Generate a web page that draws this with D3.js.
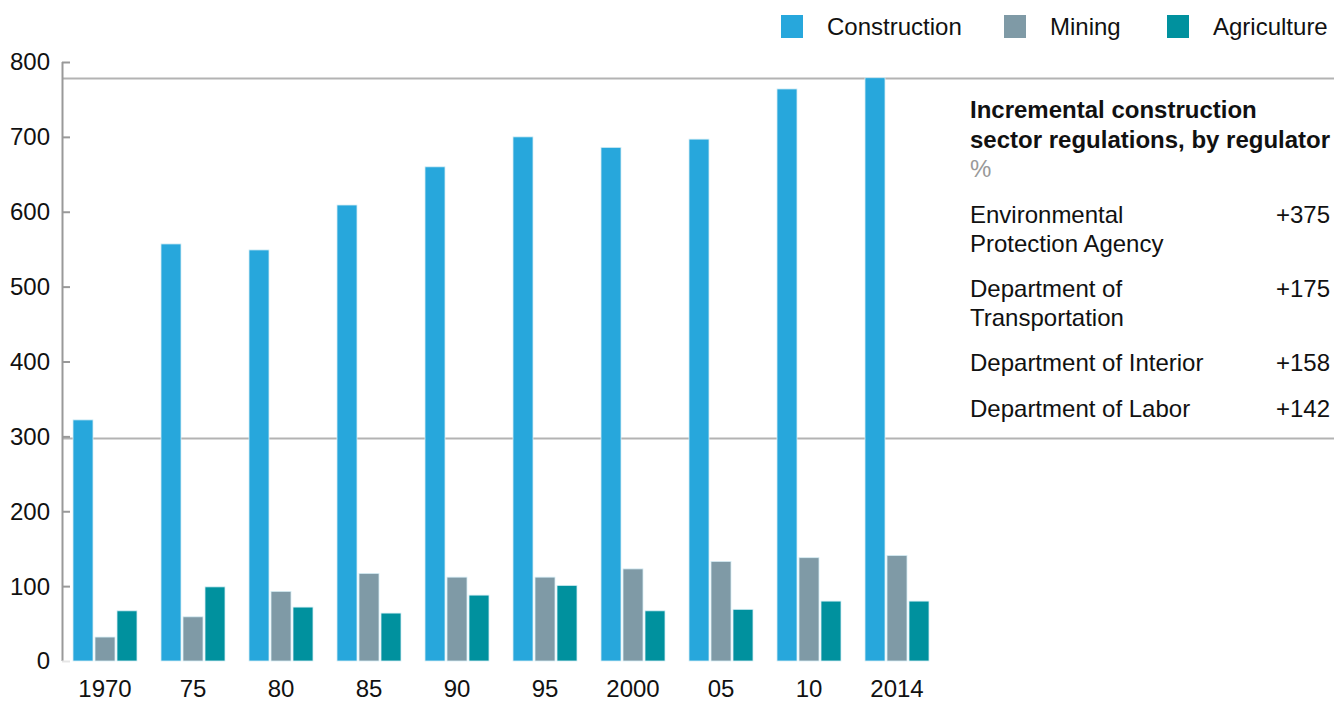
<!DOCTYPE html>
<html>
<head>
<meta charset="utf-8">
<script src="https://cdn.jsdelivr.net/npm/d3@7/dist/d3.min.js"></script>
<style>
  html, body { margin: 0; padding: 0; background: #fff; }
  svg { display: block; font-family: "Liberation Sans", Arial, sans-serif; }
</style>
</head>
<body>
<svg id="chart" width="1334" height="702"></svg>
<script>
// Regulations by sector, 1970–2014
const years = ["1970", "75", "80", "85", "90", "95", "2000", "05", "10", "2014"];
const sectors = ["Construction", "Mining", "Agriculture"];
const construction = [322, 557, 549, 609, 660, 700, 686, 697, 764, 779];
const mining = [32, 59, 93, 117, 112, 112, 123, 133, 138, 141];
const agriculture = [67, 99, 72, 64, 88, 101, 67, 69, 80, 80];
const yTicks = [0, 100, 200, 300, 400, 500, 600, 700, 800];

// Side panel: incremental construction regulations by regulator
const regulators = [
  ["Environmental", "Protection Agency"],
  ["Department of", "Transportation"],
  ["Department of Interior"],
  ["Department of Labor"]
];
const regulatorChange = ["+375", "+175", "+158", "+142"];
// Bracket lines spanning the 1970 → 2014 construction range
const bracketValues = [298, 779];

(function () {
  const colors = { Construction: "#27a7dc", Mining: "#7f9aa6", Agriculture: "#00919e" };
  const seriesBySector = { Construction: construction, Mining: mining, Agriculture: agriculture };
  const fs = 24;

  const svg = d3.select("#chart");
  const plotLeft = 62, plotTop = 62, plotBottom = 661;

  const y = d3.scaleLinear().domain([0, 800]).range([plotBottom, plotTop]);
  const x = d3.scaleBand().domain(years).range([62, 940])
    .paddingInner(24 / 88).paddingOuter(11 / 88);
  const xs = d3.scaleBand().domain(sectors).range([0, x.bandwidth()]).paddingInner(2 / 22);

  // Bracket lines
  svg.append("g").selectAll("line").data(bracketValues).join("line")
    .attr("x1", plotLeft + 1).attr("x2", 1334)
    .attr("y1", d => Math.round(y(d)) + 0.5).attr("y2", d => Math.round(y(d)) + 0.5)
    .attr("stroke", "#b3b3b3").attr("stroke-width", 2);

  // Bars
  const groups = svg.append("g").selectAll("g").data(years).join("g")
    .attr("transform", d => `translate(${x(d)},0)`);
  groups.selectAll("rect")
    .data((d, i) => sectors.map(s => ({ s, v: seriesBySector[s][i] })))
    .join("rect")
    .attr("x", d => xs(d.s))
    .attr("width", xs.bandwidth())
    .attr("y", d => y(d.v))
    .attr("height", d => y(0) - y(d.v))
    .attr("fill", d => colors[d.s])
    .attr("stroke", "#d6eef5").attr("stroke-width", 0.8);

  // Y axis
  const yAxis = svg.append("g").attr("transform", `translate(${plotLeft},0)`)
    .call(d3.axisRight(y).tickValues(yTicks).tickSize(8).tickFormat(""));
  yAxis.select(".domain").attr("stroke", "#999").attr("stroke-width", 2)
    .attr("d", `M0.5,${plotTop}V${plotBottom}`);
  yAxis.selectAll(".tick line").attr("stroke", "#999").attr("stroke-width", 2);
  yAxis.selectAll(".tick").filter(d => d === 0).select("line").attr("stroke", "#e6e6e6");
  svg.append("g").selectAll("text").data(yTicks).join("text")
    .attr("x", 50).attr("y", d => y(d)).attr("dy", "0.35em")
    .attr("text-anchor", "end").attr("font-size", fs).attr("fill", "#111")
    .text(d => d);

  // X labels
  svg.append("g").selectAll("text").data(years).join("text")
    .attr("x", d => x(d) + x.bandwidth() / 2).attr("y", 697)
    .attr("text-anchor", "middle").attr("font-size", fs).attr("fill", "#111")
    .text(d => d);

  // Legend
  const legendX = [781, 1004, 1167];
  const legend = svg.append("g").selectAll("g").data(sectors).join("g")
    .attr("transform", (d, i) => `translate(${legendX[i]},15)`);
  legend.append("rect").attr("width", 22).attr("height", 23).attr("fill", d => colors[d]);
  legend.append("text").attr("x", 46).attr("y", 12).attr("dy", "0.35em")
    .attr("font-size", fs).attr("fill", "#111").text(d => d);

  // Side panel text
  const panel = svg.append("g");
  panel.append("text").attr("x", 970).attr("y", 118).attr("font-size", fs).attr("font-weight", "bold")
    .attr("fill", "#111").text("Incremental construction");
  panel.append("text").attr("x", 970).attr("y", 148).attr("font-size", fs).attr("font-weight", "bold")
    .attr("fill", "#111").text("sector regulations, by regulator");
  panel.append("text").attr("x", 970).attr("y", 177).attr("font-size", fs).attr("fill", "#999").text("%");

  const rowY = [223, 297, 371, 417];
  regulators.forEach((lines, i) => {
    lines.forEach((ln, j) => {
      panel.append("text").attr("x", 970).attr("y", rowY[i] + j * 29)
        .attr("font-size", fs).attr("fill", "#111").text(ln);
    });
    panel.append("text").attr("x", 1330).attr("y", rowY[i]).attr("text-anchor", "end")
      .attr("font-size", fs).attr("fill", "#111").text(regulatorChange[i]);
  });
})();
</script>
</body>
</html>
